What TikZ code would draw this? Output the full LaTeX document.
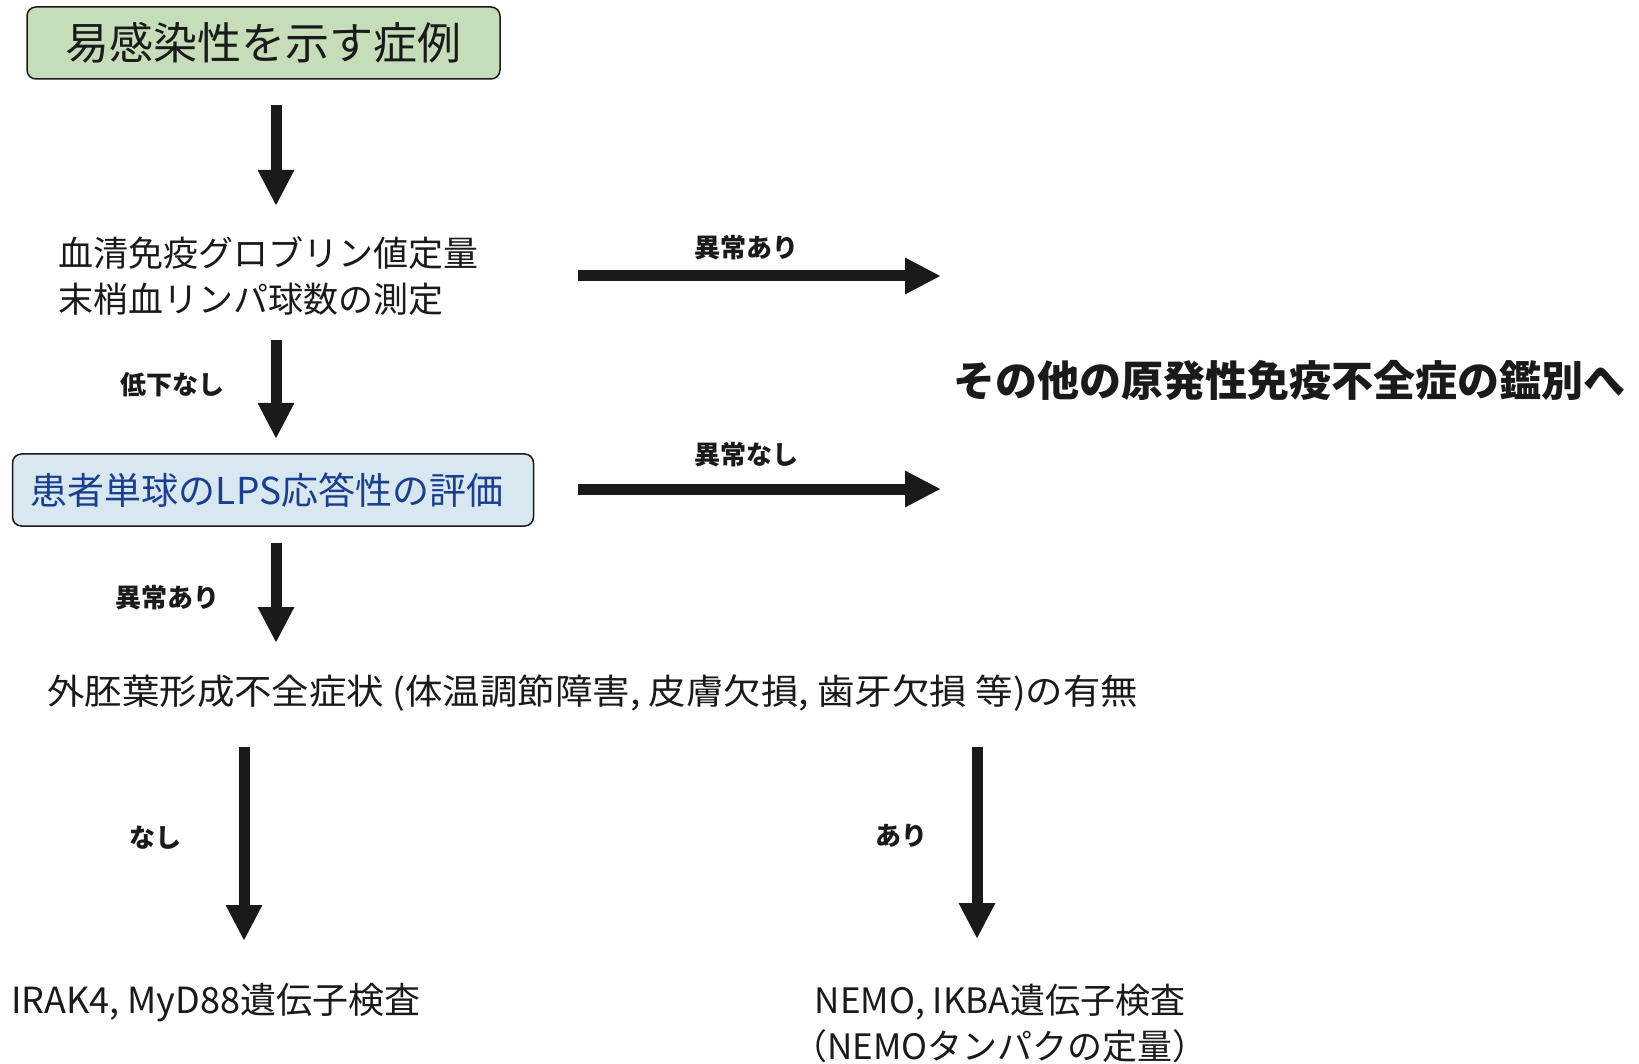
\documentclass[tikz,border=0pt]{standalone}
\usepackage{fontspec}
\setmainfont{Noto Sans CJK JP}
\usetikzlibrary{arrows.meta}
\definecolor{boxgreen}{HTML}{C6DDBA}
\definecolor{boxblue}{HTML}{D9E7F1}
\definecolor{textblue}{HTML}{1B3F8F}
\definecolor{ink}{HTML}{1A1A1A}
\tikzset{
  arr/.style={draw=ink, line width=11pt, -{Triangle[width=34pt,length=36pt]}},
  body/.style={font=\fontsize{35}{46}\selectfont, text=ink, inner sep=0pt},
  lbl/.style={font=\fontsize{26}{30}\selectfont\bfseries, text=ink, inner sep=0pt},
  bigl/.style={font=\fontsize{42}{50}\selectfont\bfseries, text=ink, inner sep=0pt},
  rbox/.style={draw=ink, line width=1.5pt, rounded corners=9pt, inner sep=0pt}
}
\begin{document}
\begin{tikzpicture}[x=1pt,y=-1pt]
\useasboundingbox[fill=white] (0,0) rectangle (1639,1064);
% nodes
\node[rbox, fill=boxgreen, minimum width=473pt, minimum height=72pt,
      font=\fontsize{44}{50}\selectfont, text=ink] (top) at (263.5,43) {易感染性を示す症例};
\node[body, anchor=west, align=left] (serum) at (58,276) {血清免疫グロブリン値定量\\末梢血リンパ球数の測定};
\node[bigl] (other) at (1289,380) {その他の原発性免疫不全症の鑑別へ};
\node[rbox, fill=boxblue, minimum width=521pt, minimum height=72pt,
      font=\fontsize{37}{42}\selectfont, text=textblue] (lps) at (273,490) {\hspace*{-12pt}患者単球のLPS応答性の評価};
\node[body, anchor=west, xscale=1.07, transform shape] (ecto) at (47,693) {外胚葉形成不全症状 (体温調節障害, 皮膚欠損, 歯牙欠損 等)の有無};
\node[body, anchor=west, font=\fontsize{36}{46}\selectfont] (irak) at (11,1003) {IRAK4, MyD88遺伝子検査};
\node[body, align=center] (nemo) at (1000,1023) {NEMO, IKBA遺伝子検査\\（NEMOタンパクの定量）};
% arrow end points
\coordinate (a1s) at (276,105); \coordinate (a1e) at (276,206);
\coordinate (a2s) at (276,340); \coordinate (a2e) at (276,439);
\coordinate (a3s) at (276,543); \coordinate (a3e) at (276,643);
\coordinate (a4s) at (244,747); \coordinate (a4e) at (244,941);
\coordinate (a5s) at (977,747); \coordinate (a5e) at (977,939);
\coordinate (h1s) at (578,276); \coordinate (h1e) at (941,276);
\coordinate (h2s) at (578,489); \coordinate (h2e) at (941,489);
% connectors
\draw[arr] (a1s) -- (a1e);
\draw[arr] (a2s) -- (a2e);
\draw[arr] (a3s) -- (a3e);
\draw[arr] (a4s) -- (a4e);
\draw[arr] (a5s) -- (a5e);
\draw[arr] (h1s) -- (h1e);
\draw[arr] (h2s) -- (h2e);
% labels
\node[lbl] (l1) at (746,248) {異常あり};
\node[lbl] (l2) at (746,455) {異常なし};
\node[lbl] (l3) at (172,385) {低下なし};
\node[lbl] (l4) at (167,598) {異常あり};
\node[lbl] (l5) at (155,838) {なし};
\node[lbl] (l6) at (901,836) {あり};
\end{tikzpicture}
\end{document}
